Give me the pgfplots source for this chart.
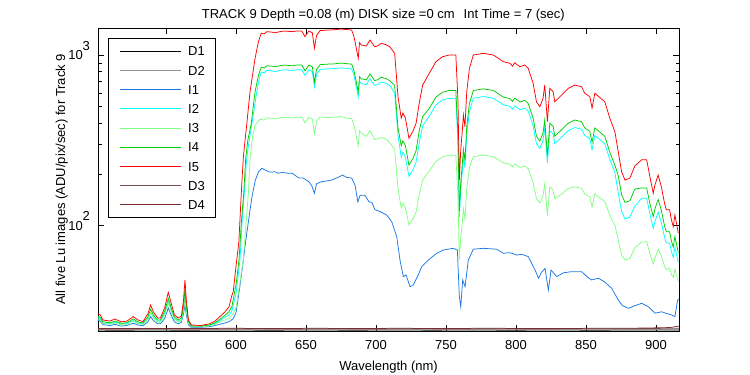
\documentclass[border=0pt]{standalone}
\usepackage{pgfplots}
\pgfplotsset{compat=1.18}
\usepackage{fontspec}
\setmainfont{Liberation Sans}
\definecolor{cD2}{RGB}{145,145,145}
\definecolor{cI1}{RGB}{25,120,230}
\definecolor{cI2}{RGB}{0,255,255}
\definecolor{cI3}{RGB}{128,255,128}
\definecolor{cI4}{RGB}{0,204,0}
\definecolor{cI5}{RGB}{255,0,0}
\definecolor{cD3}{RGB}{120,82,82}
\definecolor{cD4}{RGB}{125,45,45}
\begin{document}
\fontsize{13}{15}\selectfont
\begin{tikzpicture}
\path[use as bounding box] (0pt,0pt) rectangle (750pt,375pt);
\begin{axis}[
  at={(98pt,44pt)}, anchor=south west, scale only axis,
  width=581pt, height=303pt,
  ymode=log, xmin=501.4, xmax=916.4, ymin=24.15, ymax=1440,
  xtick={550,600,650,700,750,800,850,900},
  ytick={100,1000},
  yticklabels={10\raisebox{9.5pt}{\smash{2}},10\raisebox{9.5pt}{\smash{3}}},
  tick align=inside,
  major tick length=6pt, minor tick length=3.5pt,
  every tick/.style={black, line width=0.6pt},
  axis line style={line width=0.8pt},
  tick label style={font=\fontsize{13}{15}\selectfont, /pgf/number format/assume math mode=true},
  xticklabel style={yshift=-5pt},
  yticklabel style={xshift=-3.5pt},
  every axis plot/.append style={line width=0.75pt, mark=none},
  legend style={at={(0.0172,0.967)}, anchor=north west, draw=black, line width=0.8pt,
    inner xsep=11pt, inner ysep=8pt, row sep=9.7pt, column sep=7pt,
    font=\fontsize{13}{15}\selectfont,
    nodes={inner sep=0pt, text height=9.5pt, text depth=0pt}},
  legend cell align=left,
  legend image code/.code={\draw[#1] (0pt,0pt) -- (61pt,0pt);},
]
% D1
\addplot[black] coordinates {(501.4,24.45)(520,24.4)(540,24.5)(560,24.4)(580,24.45)(600,24.5)(620,24.4)(640,24.45)(660,24.5)(680,24.4)(700,24.45)(720,24.5)(740,24.4)(760,24.5)(780,24.45)(800,24.4)(820,24.5)(840,24.45)(860,24.4)(880,24.5)(900,24.45)(916.4,24.5)};
% D2
\addplot[cD2] coordinates {(501.4,24.6)(520,24.55)(540,24.6)(560,24.55)(580,24.6)(600,24.6)(620,24.55)(640,24.6)(660,24.55)(680,24.6)(700,24.6)(720,24.55)(740,24.6)(760,24.6)(780,24.55)(800,24.6)(820,24.6)(840,24.55)(860,24.6)(880,24.6)(900,24.65)(916.4,24.7)};
% I1
\addplot[cI1] coordinates {(501.4,28)(503,27.5)(505,26.3)(510,26)(513.5,26.4)(518,25.8)(522,26)(526.6,26.8)(530,26.2)(533.5,25.9)(537,27.3)(539,29.3)(541,27.8)(544,26.6)(546,26.6)(549,28.5)(551.6,32.9)(554,29.5)(556,27.3)(558.7,26.6)(561,27.2)(562.5,30.5)(563.5,34.3)(564.5,30)(566,26.2)(568,25.4)(575,25.4)(581,25.6)(585,26)(589,26.5)(592,26.9)(595,27.4)(598,28.5)(600,31)(602,40)(604.3,55)(606.7,79)(609,108)(611.4,148)(613.8,185)(616.1,207)(618.5,217)(619.7,214)(624,206)(627.7,207)(630,203)(633,205)(637,203)(640,203)(645,190)(648,190)(652,181)(654,172)(656,155)(657.5,176)(661,181)(665,183)(668,185)(673,192)(676,198)(679,192)(682.6,190)(685,173)(687,138)(688.7,151)(692,151)(695,138)(697,137)(699.3,124)(702.8,121)(707.6,115.5)(711.2,105.5)(714.8,86.2)(717.1,62.9)(719.5,50.3)(721.4,51.5)(724.3,43.9)(726.6,44.9)(730.2,51.5)(732.6,57.5)(737.3,62.9)(743.3,68.9)(748.1,72)(755.2,73.7)(758.1,72)(759.5,38.4)(760.5,33.5)(761.9,48.1)(763.6,43.9)(765.9,62.9)(769.5,72.8)(776.6,73.7)(786.2,72.8)(790.9,68.9)(795.7,69.5)(800.5,67.3)(804,68)(808.7,65.9)(813.6,55)(816,49.2)(818,53)(820.7,56.2)(823.1,42)(825,55)(829,50.3)(834,53)(839.8,53.8)(846.9,53.8)(851,50)(854,48.1)(858.8,49.2)(863,47)(868.3,43)(873,36.7)(876,34)(880.2,32.8)(885,34)(889.8,35.1)(894.5,33.5)(899.3,30.7)(904,31.3)(908,30.5)(911.2,30)(913.5,29.3)(915.4,36.7)(916.4,37)};
% I2
\addplot[cI2] coordinates {(501.4,29)(503,28.5)(505,27)(510,26.7)(513.5,27.2)(518,26.5)(522,26.7)(526.6,27.8)(530,26.9)(533.5,26.6)(537,28.5)(539,30.9)(541,29.2)(544,27.5)(546,27.5)(549,30.5)(551.6,35.9)(554,31.5)(556,28.5)(558.7,27.5)(561,28.2)(562.5,32.5)(563.5,38.4)(564.5,32.5)(566,27)(568,25.8)(575,25.7)(581,26)(585,26.7)(589,28)(592,29)(595,30)(597,31.5)(600,40)(602.8,63)(604.5,110)(605.9,155)(607.6,248)(609.5,320)(611.2,389)(614.8,610)(616.5,720)(618,794)(620,788)(622,812)(625,808)(628,800)(632,814.5)(635,818.7)(640,812)(644,820.4)(647,818.7)(649.3,759)(652,818.7)(654.5,800)(656,650.7)(657.5,770.7)(660,823.3)(665,829.2)(670,832)(675,841)(679,835)(682.6,829)(684,771)(685,710.4)(687.3,570)(688.2,700.5)(689.5,680)(693,670.6)(695.7,726)(699,664)(701,671)(703.8,695)(707,683)(709.8,664)(713.3,598.6)(714.5,449)(715.7,338)(718,252)(719.2,269)(721,252)(723.5,194.3)(726.2,211.2)(728.6,235.5)(731,311.2)(733.3,384.3)(738,438.3)(742.8,511)(747.5,545.5)(752.3,558)(757,558)(758.5,309)(759.5,112)(760.5,163)(761.5,202.5)(762.4,254.5)(763.5,219)(764.8,344.8)(766.7,468.4)(769.5,558)(776.6,570.7)(783.8,558)(787.3,534.6)(790.9,511)(795.7,500)(797.5,481.5)(799,503.4)(802.8,478)(806.3,489)(808.7,468.4)(812.2,384.7)(814.6,302)(817,283.5)(819.3,316.3)(820.5,376)(822.4,233.7)(824.1,360)(826.5,344.8)(827.7,302)(832.5,330)(837.3,360)(842,376)(846.8,367.7)(849.1,337.7)(852.7,322.9)(854.3,278.6)(856.3,337.7)(863.4,302)(867,244)(870.6,205.3)(873,155)(875.4,121)(877.8,109.6)(881.3,112.2)(884.9,130.2)(889.7,144.7)(893.3,144.7)(895.6,117.7)(898,96.3)(899.2,106)(901.5,119.9)(903.8,104)(906.1,85.3)(907.3,79.2)(909.7,79.2)(911,70.4)(912.3,65.2)(913.5,74.5)(915.9,60.8)};
% I3
\addplot[cI3] coordinates {(501.4,28.5)(503,28)(505,26.8)(510,26.5)(513.5,26.9)(518,26.3)(522,26.5)(526.6,27.5)(530,26.7)(533.5,26.4)(537,28.2)(539,31)(541,28.8)(544,27.2)(546,27.2)(549,30)(551.6,35.1)(554,31)(556,28.2)(558.7,27.2)(561,27.9)(562.5,32)(563.5,36.7)(564.5,31.5)(566,26.8)(568,25.7)(575,25.6)(581,25.9)(585,26.4)(589,27.4)(592,28)(595,28.7)(598,30.5)(600,33)(602,42)(605.2,63)(608.8,155)(610,248)(611.8,330)(613.6,389)(617.1,420)(620,416)(622,428)(625,426.4)(628,422)(632,429.6)(635,431.8)(640,428)(644,432.7)(647,431.8)(649.3,401)(652,431.8)(654.5,422)(656,345.7)(657.5,407)(660,434)(665,430.3)(670,431.8)(675,436.2)(679,426.3)(682.6,423.4)(684,394.4)(685,364.5)(687.3,295)(688.2,359.6)(689.5,349.5)(693,333.8)(695.7,360.3)(699,319.8)(701,323)(703.8,328.3)(707,322.8)(709.8,306.6)(713.3,280)(714.5,213.6)(715.7,164)(718,127.1)(719.2,134.8)(721,127.1)(723.5,101.1)(726.2,108.8)(728.6,119.7)(731,153.9)(733.3,185.1)(738,209.8)(742.8,238)(747.5,253)(752.3,258.6)(757,258.6)(758.5,149.4)(759.5,63)(760.5,85.3)(761.5,102.6)(762.4,125.4)(763.5,109.8)(764.8,165)(766.7,219.2)(769.5,253.7)(776.6,259.2)(783.8,253.7)(787.3,243.6)(790.9,233.5)(795.7,228.8)(797.5,220.8)(799,230.2)(802.8,219.4)(806.3,224.1)(808.7,215.2)(812.2,179.2)(814.6,143.8)(817,135.8)(819.3,149.9)(820.5,175.5)(822.4,114.4)(824.1,168.7)(826.5,162.1)(827.7,143.8)(832.5,153)(837.3,165.6)(842,169)(846.8,165.7)(849.1,153.3)(852.7,147.2)(854.3,129)(856.3,153.3)(863.4,138.7)(867,114.8)(870.6,100.5)(873,82.4)(875.4,67.4)(877.8,63)(881.3,64.2)(884.9,74.4)(889.7,80.2)(893.3,80.7)(895.6,68.6)(898,59.7)(899.2,64.6)(901.5,73)(903.8,66.4)(906.1,57.7)(907.3,55.3)(909.7,56.3)(911,52)(912.3,49.7)(913.5,55.5)(915.9,47)};
% I4
\addplot[cI4] coordinates {(501.4,29.5)(503,29)(505,27.3)(510,27)(513.5,27.6)(518,26.8)(522,27)(526.6,28.4)(530,27.3)(533.5,26.9)(537,29.2)(539,32.4)(541,30)(544,28)(546,28)(549,31.5)(551.6,37.5)(554,32.5)(556,29.2)(558.7,28)(561,28.8)(562.5,34)(563.5,42.4)(564.5,34)(566,27.5)(568,25.9)(575,25.8)(581,26.2)(585,27)(589,28.5)(592,29.8)(595,31.4)(597,33.5)(600,45)(602.1,63)(604,110)(605.5,155)(606.9,248)(608.5,320)(610.7,389)(613.6,610)(616,760)(618,847)(620,840)(622,865)(625,862)(628,853)(632,868)(635,873)(640,865)(644,875)(647,873)(649.3,809)(652,873)(654.5,853)(656,694)(657.5,822)(660,878)(665,884)(670,887)(675,897)(679,890)(682.6,884)(684,822)(685,757)(687.3,607)(688.2,746)(689.5,725)(693,715)(695.7,774)(699,708)(701,716)(703.8,741)(707,728)(709.8,708)(713.3,663)(714.5,497)(715.7,374)(718,294)(719.2,314)(721,294)(723.5,226)(726.2,246)(728.6,275)(731,365)(733.3,436)(738,486)(742.8,567)(747.5,605.5)(752.3,619.6)(757,619.6)(758.5,342)(759.5,122)(760.5,179)(761.5,223)(762.4,281)(763.5,241)(764.8,382)(766.7,519)(769.5,619.6)(776.6,633.6)(783.8,619.6)(787.3,593)(790.9,567)(795.7,555)(797.5,534)(799,559)(802.8,530.5)(806.3,543)(808.7,519.5)(812.2,426)(814.6,334)(817,313)(819.3,350)(820.5,416)(822.4,258)(824.1,399)(826.5,382)(827.7,334)(832.5,365)(837.3,399)(842,416)(846.8,407)(849.1,374)(852.7,357)(854.3,308)(856.3,374)(863.4,334)(867,269)(870.6,226)(873,197)(875.4,152)(877.8,137)(881.3,140)(884.9,164)(889.7,166.5)(893.3,166.5)(895.6,134.7)(898,113)(899.2,125.5)(901.5,142.5)(903.8,122.8)(906.1,99.6)(907.3,92.2)(909.7,92.2)(911,81.3)(912.3,74.9)(913.5,86.4)(915.9,69.5)};
% I5
\addplot[cI5] coordinates {(501.4,30.4)(503,30)(505,28)(510,27.6)(513.5,28.4)(518,27.3)(522,27.6)(526.6,29.3)(530,28)(533.5,27.4)(537,30.4)(539,34.3)(541,31.2)(544,28.8)(546,28.8)(549,33)(551.6,40.7)(554,34.3)(556,30)(558.7,28.8)(561,29.6)(562.5,36.7)(563.5,48.1)(564.5,36.7)(566,28)(568,26.2)(575,26)(581,26.6)(585,27.6)(589,29.6)(592,31.2)(595,33.5)(597,39)(598,41)(600,58)(602,80)(603.5,141)(604.5,200)(605.2,250)(606.5,320)(607.6,389)(610,610)(613.6,957)(616,1197)(618,1340)(620,1330)(622,1370)(625,1364)(628,1350)(632,1375)(635,1382)(640,1370)(644,1385)(647,1382)(649.3,1280)(652,1382)(654.5,1350)(656,1095)(657.5,1300)(660,1390)(665,1400)(670,1405)(675,1420)(679,1410)(682.6,1400)(684,1300)(685,1197)(687.3,957)(688.2,1180)(689.5,1145)(693,1129)(695.7,1224)(699,1118)(701,1130)(703.8,1171)(707,1150)(709.8,1118)(713.3,1023)(714.5,763)(715.7,570)(718,427)(719.2,457)(721,427)(723.5,325)(726.2,355)(728.6,398)(731,532)(733.3,667)(738,781)(742.8,914)(747.5,977)(752.3,1000)(757,1000)(758.5,545)(759.5,185)(760.5,278)(761.5,350)(762.4,445)(763.5,380)(764.8,610)(766.7,836)(769.5,1000)(776.6,1023)(783.8,1000)(787.3,957)(790.9,914)(795.7,894)(797.5,860)(799,900)(802.8,854)(806.3,874)(808.7,836)(812.2,683)(814.6,532)(817,498)(819.3,558)(820.5,667)(822.4,407)(824.1,638)(826.5,610)(827.7,532)(832.5,583)(837.3,638)(842,667)(846.8,652)(849.1,597)(852.7,570)(854.3,489)(856.3,597)(863.4,532)(867,426)(870.6,355)(873,271)(875.4,207)(877.8,185)(881.3,190)(884.9,224)(889.7,243)(893.3,243)(895.6,194)(898,155)(899.2,173)(901.5,198)(903.8,169)(906.1,135)(907.3,124)(909.7,124)(911,108)(912.3,98.6)(913.5,115.5)(915.9,90.6)};
% D3
\addplot[cD3] coordinates {(501.4,24.85)(520,24.8)(540,24.9)(560,24.85)(580,24.8)(600,24.9)(620,24.85)(640,24.8)(660,24.9)(680,24.85)(700,24.8)(720,24.9)(740,24.85)(760,24.8)(780,24.9)(800,24.85)(820,24.8)(840,24.9)(860,24.85)(880,24.9)(900,25)(916.4,25.1)};
% D4
\addplot[cD4] coordinates {(501.4,25)(520,24.95)(540,25)(560,24.95)(580,25)(600,25.05)(620,24.95)(640,25)(660,25.05)(680,24.95)(700,25)(720,25.05)(740,24.95)(760,25)(780,25.05)(800,25)(820,24.95)(840,25)(860,25.05)(880,25.05)(900,25.2)(910,25.3)(916.4,25.8)};
\legend{D1,D2,I1,I2,I3,I4,I5,D3,D4}
\end{axis}
\node[anchor=base west, inner sep=0pt] at (201.7pt,356.7pt) {TRACK 9 Depth =0.08 (m) DISK size =0 cm\hspace*{9pt}Int Time = 7 (sec)};
\node[anchor=base, inner sep=0pt] at (388.5pt,5pt) {Wavelength (nm)};
\node[anchor=base, rotate=90, inner sep=0pt] at (65pt,195.5pt) {All five Lu images (ADU/pix/sec) for Track 9};
\end{tikzpicture}
\end{document}
